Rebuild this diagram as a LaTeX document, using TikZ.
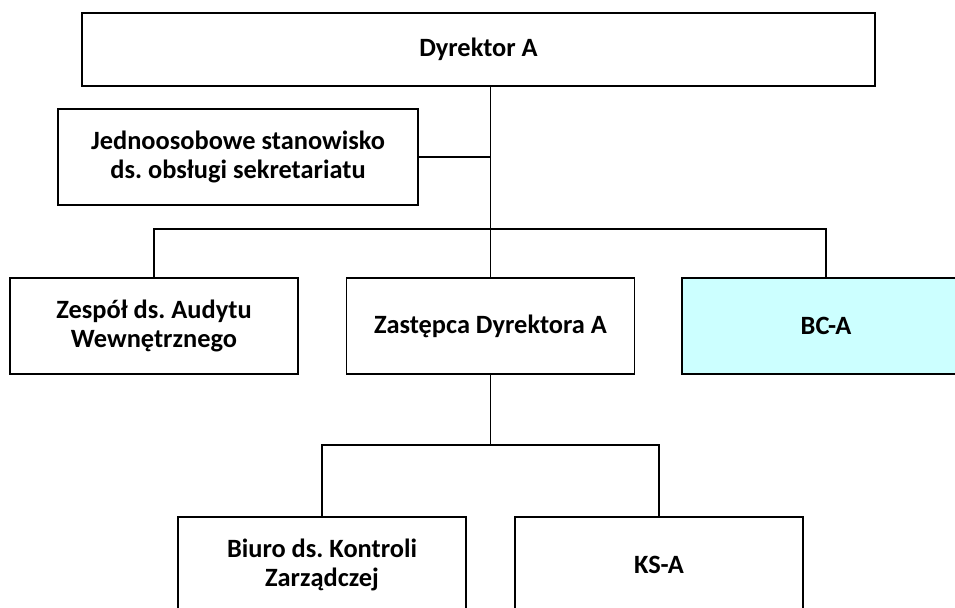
\documentclass[tikz,border=0pt]{standalone}
\usepackage{fontspec}
\setmainfont{Carlito}
\frenchspacing
\begin{document}
\begin{tikzpicture}[x=0.75pt,y=-0.75pt,
  orgbox/.style={draw=black,line width=1.4pt,fill=white,minimum height=96*0.75pt,minimum width=288*0.75pt,align=center,inner sep=0pt,font=\fontsize{19.8}{21.5}\selectfont\bfseries},
  conn/.style={draw=black,line width=1.1pt}]
\useasboundingbox (0,0) rectangle (955,607);
\clip (0,0) rectangle (955,607);
\node[orgbox,minimum width=793*0.75pt,minimum height=73*0.75pt] (top) at (478.5,49.5) {Dyrektor A};
\node[orgbox,minimum width=360*0.75pt] (sec) at (238,157) {Jednoosobowe stanowisko\\ds. obsługi sekretariatu};
\node[orgbox] (zesp) at (154,326) {Zespół ds. Audytu\\Wewnętrznego};
\node[orgbox] (zast) at (490.5,326) {Zastępca Dyrektora A};
\node[orgbox,fill={rgb,255:red,204;green,255;blue,255}] (bc) at (826,326) {BC-A};
\node[orgbox] (biuro) at (322,565) {Biuro ds. Kontroli\\Zarządczej};
\node[orgbox] (ks) at (659,565) {KS-A};
\coordinate (bar) at (490.5,229);
\coordinate (bar2) at (490.5,445);
\draw[conn] (top.south -| zast.north) -- (zast.north);
\draw[conn] (sec.east) -- (sec.east -| zast.north);
\draw[conn] (zesp.north) |- (bar) -| (bc.north);
\draw[conn] (zast.south) -- (bar2);
\draw[conn] (biuro.north) |- (bar2) -| (ks.north);
\end{tikzpicture}
\end{document}
